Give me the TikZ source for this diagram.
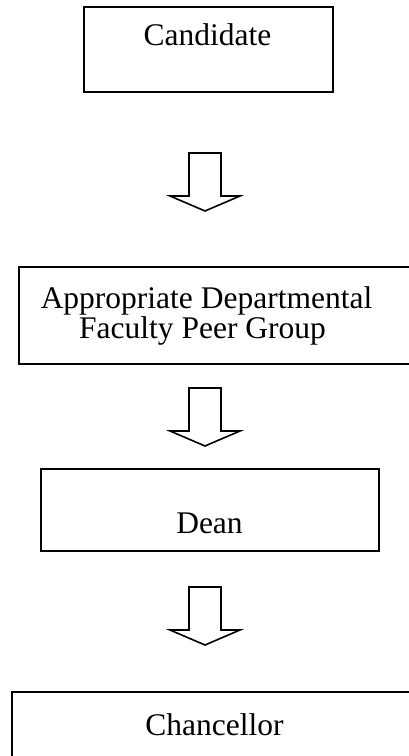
\documentclass[tikz,border=0pt]{standalone}
\usepackage{fontspec}
\setmainfont{Liberation Serif}
\usetikzlibrary{calc}
\tikzset{
 stagebox/.style={draw=black, line width=1.8pt, anchor=north west, inner sep=0pt},
 stagetext/.style={anchor=base, inner sep=0pt, font=\fontsize{31.5}{36}\selectfont}
}
\newcommand{\stageBox}[4]{
    \node[stagebox, minimum width=#3, minimum height=#4] (#1) at #2 {};
}
\newcommand{\blockArrow}[2]{
    \coordinate (#1) at #2;
    \draw[line width=1.6pt, line join=miter]
        ($(#1) + (-16, 0)$) -- ($(#1) + (16, 0)$) -- ($(#1) + (16, 43)$)
        -- ($(#1) + (35, 43)$) -- ($(#1) + (0, 58)$) -- ($(#1) + (-35, 43)$)
        -- ($(#1) + (-16, 43)$) -- cycle;
}

\begin{document}
\begin{tikzpicture}[x=1pt, y=-1pt]
    \useasboundingbox (0, 0) rectangle (409, 756);

    \stageBox{cand}{(83, 6)}{249pt}{85pt}
    \stageBox{peer}{(18, 266)}{412pt}{97pt}
    \stageBox{dean}{(40, 468)}{338pt}{82pt}
    \stageBox{chan}{(11, 691)}{420pt}{100pt}

    \node[stagetext] (candtext) at (207.5, 45) {Candidate};
    \node[stagetext] (peertexta) at (206.5, 308) {Appropriate Departmental};
    \node[stagetext] (peertextb) at (202.5, 338) {Faculty Peer Group};
    \node[stagetext] (deantext) at (209.5, 533) {Dean};
    \node[stagetext] (chantext) at (214.5, 735) {Chancellor};

    \blockArrow{candpeer}{(205, 153)}
    \blockArrow{peerdean}{(205, 388)}
    \blockArrow{deanchan}{(205, 587)}
\end{tikzpicture}
\end{document}
